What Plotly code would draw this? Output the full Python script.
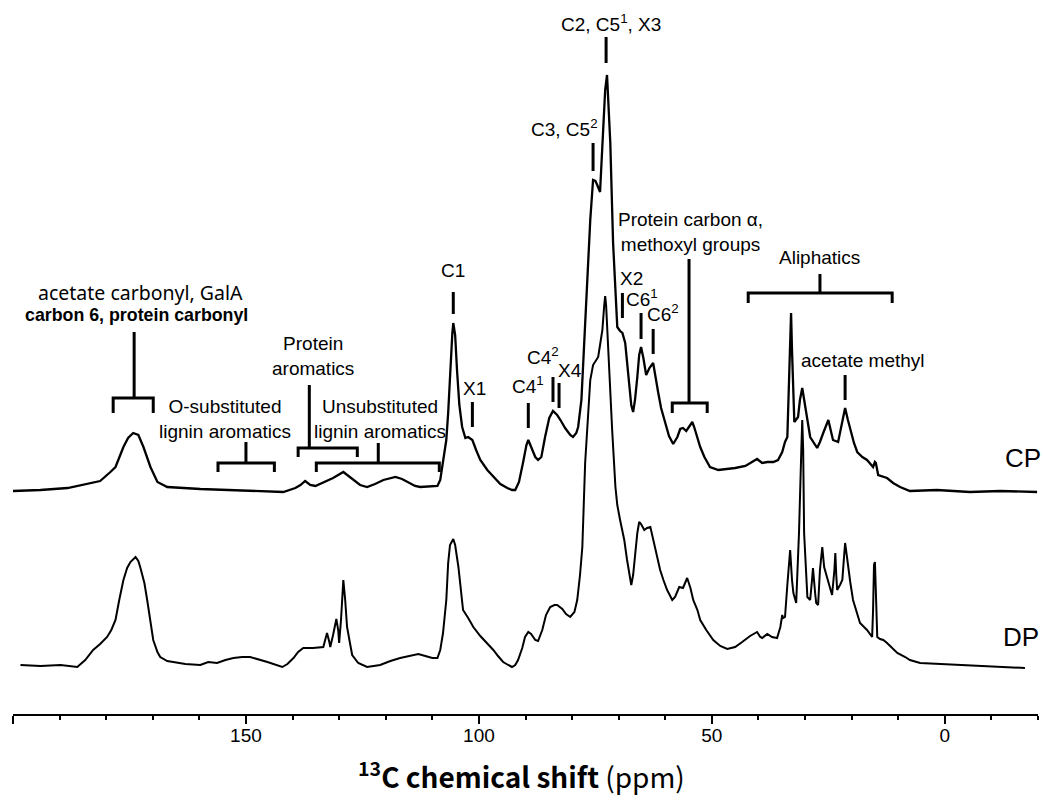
import plotly.graph_objects as go

# Solid-state 13C NMR spectra: chemical shift (ppm) vs. intensity (a.u.)
cp_ppm = [200.1, 194.1, 188.3, 181.3, 179.1, 178.0, 176.3, 175.3, 174.2, 173.1,
          172.0, 170.5, 169.0, 166.9, 159.8, 152.7, 146.9, 142.0, 139.4, 138.3,
          137.3, 136.2, 135.1, 134.1, 131.3, 129.1, 128.0, 127.0, 125.5, 124.0,
          122.3, 120.5, 117.9, 116.5, 115.4, 113.7, 112.6, 108.9, 108.3, 107.7,
          107.0, 106.6, 106.2, 105.7, 105.5, 105.1, 104.7, 104.2, 103.6, 102.9,
          102.3, 101.4, 100.6, 99.7, 98.2, 96.9, 95.4, 93.9, 92.9, 92.2,
          91.4, 90.5, 89.8, 89.4, 88.8, 87.9, 87.3, 86.6, 85.8, 84.9,
          84.1, 83.2, 82.5, 81.5, 80.4, 79.8, 79.1, 78.7, 78.0, 77.6,
          77.2, 76.7, 76.1, 75.5, 75.0, 74.6, 74.0, 73.3, 72.9, 72.5,
          72.3, 71.8, 71.2, 70.7, 70.3, 69.7, 69.2, 68.6, 67.9, 67.3,
          66.9, 66.5, 66.0, 65.6, 65.2, 64.7, 64.1, 63.4, 62.6, 62.2,
          61.5, 60.9, 60.0, 59.2, 58.3, 57.4, 56.8, 56.2, 55.5, 54.9,
          54.2, 53.8, 53.1, 52.5, 51.6, 50.4, 48.6, 46.7, 45.0, 42.8,
          41.8, 40.3, 39.2, 38.1, 36.8, 35.8, 34.9, 34.3, 33.8, 33.4,
          33.0, 32.8, 32.3, 31.5, 31.1, 30.6, 30.2, 29.5, 28.9, 27.4,
          26.8, 26.1, 25.0, 24.6, 24.0, 22.9, 22.3, 21.4, 20.8, 20.3,
          19.5, 18.8, 17.7, 16.7, 15.4, 15.0, 14.8, 14.3, 12.4, 11.1,
          9.6, 7.5, 1.7, -5.4, -11.9, -19.8]
cp_int = [-1, 0, 2, 9, 18, 23, 43, 52, 57, 55,
          43, 23, 8, 3, 1, 0, -1, -2, 2, 5,
          9, 5, 4, 6, 12, 18, 14, 10, 5, 3,
          6, 10, 13, 11, 8, 4, 3, 4, 10, 27,
          50, 77, 120, 157, 167, 155, 120, 85, 63, 52,
          53, 50, 40, 30, 20, 13, 6, 2, 0, 0,
          8, 28, 45, 50, 43, 33, 30, 33, 53, 72,
          79, 75, 70, 62, 55, 53, 57, 63, 90, 130,
          170, 213, 270, 310, 309, 305, 298, 363, 400, 415,
          395, 347, 247, 200, 163, 159, 157, 147, 113, 85,
          78, 90, 113, 135, 143, 132, 115, 122, 127, 115,
          97, 82, 68, 54, 46, 53, 61, 62, 59, 63,
          68, 63, 52, 43, 33, 23, 20, 21, 22, 24,
          27, 31, 27, 28, 28, 30, 38, 48, 53, 110,
          177, 140, 68, 73, 90, 102, 90, 67, 53, 42,
          48, 57, 70, 62, 50, 48, 62, 82, 70, 60,
          47, 38, 33, 30, 23, 28, 27, 15, 12, 7,
          3, -1, 0, -2, -1, -2]

dp_ppm = [198.4, 194.1, 189.8, 187.7, 186.2, 184.5, 182.8, 181.3, 179.8, 178.9,
          178.0, 177.2, 176.3, 175.5, 174.8, 173.7, 173.1, 172.7, 171.8, 171.2,
          170.5, 169.9, 169.0, 168.4, 166.9, 165.6, 163.0, 159.8, 158.1, 156.2,
          154.4, 152.7, 150.8, 149.1, 147.4, 145.4, 142.2, 141.1, 139.8, 138.8,
          137.7, 135.6, 133.4, 133.0, 132.6, 132.1, 131.9, 131.3, 130.6, 130.2,
          130.0, 129.6, 129.1, 128.7, 128.3, 127.6, 127.2, 125.9, 124.0, 121.2,
          119.0, 116.9, 114.7, 113.0, 111.5, 110.0, 108.9, 108.3, 107.7, 107.0,
          106.6, 106.2, 105.5, 105.1, 104.4, 103.8, 103.4, 102.3, 101.2, 99.7,
          98.2, 96.9, 95.9, 94.8, 93.7, 92.9, 92.2, 91.6, 90.7, 90.1,
          89.4, 88.8, 87.9, 87.3, 86.4, 85.6, 84.7, 83.8, 83.2, 82.1,
          81.3, 80.4, 79.5, 78.9, 78.3, 77.8, 77.2, 76.7, 76.1, 75.5,
          74.8, 74.4, 74.0, 73.5, 73.1, 72.9, 72.7, 72.3, 71.8, 71.4,
          70.7, 70.3, 69.7, 68.8, 68.2, 67.7, 67.3, 66.9, 66.5, 66.0,
          65.6, 65.2, 64.5, 63.9, 63.2, 62.8, 62.2, 61.7, 61.1, 60.4,
          59.6, 58.5, 57.9, 57.0, 56.2, 55.3, 54.6, 54.0, 53.1, 52.5,
          51.2, 49.7, 48.2, 46.7, 45.0, 43.5, 41.8, 40.3, 39.6, 39.2,
          38.1, 37.1, 36.0, 35.3, 34.9, 34.7, 34.3, 33.8, 33.2, 32.8,
          32.5, 31.9, 31.3, 30.8, 30.6, 30.4, 30.2, 29.5, 28.9, 28.5,
          28.3, 27.8, 27.6, 27.2, 26.8, 26.3, 26.1, 25.9, 25.3, 24.6,
          24.2, 23.7, 23.5, 23.3, 23.1, 22.5, 22.0, 21.6, 21.4, 21.2,
          20.8, 20.3, 19.7, 18.8, 18.2, 16.7, 15.6, 15.4, 15.2, 15.0,
          14.8, 14.5, 13.9, 13.2, 12.4, 11.3, 10.2, 8.5, 7.5, 5.3,
          1.0, -1.8, -7.6, -11.9, -17.2]
dp_int = [0, -1, 0, -1, -2, 5, 15, 21, 28, 35,
          45, 65, 85, 97, 103, 108, 104, 98, 82, 65,
          45, 25, 13, 8, 4, 3, 1, 0, 3, 2,
          5, 7, 8, 8, 6, 3, -2, 1, 7, 13,
          17, 17, 18, 25, 32, 23, 18, 30, 46, 35,
          22, 45, 85, 65, 38, 20, 10, 2, -2, 0,
          4, 7, 9, 11, 9, 7, 7, 15, 32, 65,
          102, 120, 126, 120, 98, 70, 55, 47, 38, 29,
          22, 15, 9, 3, 0, -2, 0, 5, 17, 28,
          33, 31, 25, 24, 35, 50, 58, 60, 60, 56,
          51, 48, 53, 65, 90, 118, 202, 245, 285, 300,
          305, 308, 320, 335, 360, 369, 360, 318, 275, 235,
          178, 160, 145, 125, 105, 90, 80, 90, 112, 132,
          143, 141, 135, 137, 138, 130, 115, 108, 95, 85,
          75, 65, 68, 78, 77, 87, 77, 65, 55, 45,
          35, 25, 19, 16, 18, 23, 29, 33, 28, 27,
          31, 28, 27, 38, 50, 47, 48, 80, 115, 85,
          72, 62, 132, 215, 245, 215, 132, 68, 65, 85,
          97, 70, 62, 60, 95, 118, 105, 98, 88, 77,
          70, 95, 112, 90, 75, 80, 85, 110, 122, 115,
          98, 83, 65, 52, 42, 35, 28, 55, 100, 103,
          65, 28, 26, 25, 22, 17, 12, 8, 5, 2,
          1, 0, -1, -2, -3]

x_tick_vals = [200, 150, 100, 50, 0]
x_tick_text = ["", "150", "100", "50", "0"]

# vertical stacking offset of the CP spectrum above the DP spectrum
CP_OFFSET = 175

LABEL_FONT = "Liberation Sans, Arial, sans-serif"
TEXT_SIZE = 19

fig = go.Figure()
fig.add_trace(go.Scatter(
    x=cp_ppm, y=[v + CP_OFFSET for v in cp_int], mode="lines",
    line=dict(color="black", width=2.3), name="CP", showlegend=False, hoverinfo="skip"))
fig.add_trace(go.Scatter(
    x=dp_ppm, y=dp_int, mode="lines",
    line=dict(color="black", width=2), name="DP", showlegend=False, hoverinfo="skip"))

shapes = []

# short marker bars above individual resonances: (ppm, bottom, top)
peak_marks = [(72.7, 602, 628), (75.5, 494, 522), (105.5, 351, 373), (101.4, 238, 263),
              (89.4, 237, 262), (84.1, 263, 288), (82.8, 257, 282), (69.2, 347, 372),
              (65.2, 326, 352), (62.6, 311, 336), (21.4, 265, 290)]
for ppm, y0, y1 in peak_marks:
    shapes.append(dict(type="line", xref="x", yref="y", x0=ppm, x1=ppm, y0=y0, y1=y1,
                       line=dict(color="black", width=3)))

# range brackets: (stem ppm, stem top, bar level, left ppm, right ppm, leg bottom)
brackets = [(174.0, 333, 267, 178.5, 169.9, 252),
            (150.0, 223, 202, 156.0, 143.9, 193),
            (136.4, 280, 217, 138.8, 126.1, 208),
            (121.6, 222, 202, 134.9, 108.5, 193),
            (54.9, 406, 262, 58.5, 51.0, 252),
            (26.8, 391, 372, 42.2, 11.3, 362)]
for stem, top, bar, left, right, foot in brackets:
    path = (f"M {left},{foot} L {left},{bar} L {right},{bar} L {right},{foot} "
            f"M {stem},{bar} L {stem},{top}")
    shapes.append(dict(type="path", xref="x", yref="y", path=path,
                       line=dict(color="black", width=3)))

annotations = []


def label(text, x, y, size=TEXT_SIZE, family=LABEL_FONT):
    annotations.append(dict(text=text, x=x, y=y, xref="x", yref="y", showarrow=False,
                            xanchor="center", yanchor="middle",
                            font=dict(family=family, size=size, color="black")))


label("C2, C5<sup>1</sup>, X3", 71.6, 642)
label("C3, C5<sup>2</sup>", 81.7, 537)
label("C1", 105.5, 395)
label("X1", 101.0, 277)
label("C4<sup>1</sup>", 89.4, 280)
label("C4<sup>2</sup>", 86.2, 309)
label("X4", 80.4, 295)
label("X2", 67.3, 387)
label("C6<sup>1</sup>", 64.9, 367)
label("C6<sup>2</sup>", 60.4, 352)
label("acetate methyl", 17.5, 305)
label("Protein carbon α,<br>methoxyl groups", 54.6, 433)
label("Aliphatics", 26.9, 408)
label("Protein<br>aromatics", 135.7, 309)
label("O-substituted<br>lignin aromatics", 154.6, 246)
label("Unsubstituted<br>lignin aromatics", 121.2, 246)
label("acetate carbonyl, GalA", 172.6, 373, size=19.5, family="Noto Sans, sans-serif")
label("<b>carbon 6, protein carbonyl</b>", 173.4, 350, size=17.8)
label("CP", -16.8, 207, size=26)
label("DP", -16.4, 28, size=26)

annotations.append(dict(
    text="<b><sup>13</sup>C chemical shift</b> (ppm)", xref="paper", yref="paper",
    x=0.496, y=-0.085, xanchor="center", yanchor="middle", showarrow=False,
    font=dict(family="Noto Sans CJK KR, Noto Sans, sans-serif", size=28, color="black")))

fig.update_layout(
    width=1043, height=807,
    margin=dict(l=13, r=5, t=0, b=93),
    paper_bgcolor="white", plot_bgcolor="white",
    shapes=shapes, annotations=annotations,
    xaxis=dict(range=[200, -20], showline=True, linecolor="black", linewidth=2,
               showgrid=False, zeroline=False, ticks="outside", ticklen=8, tickwidth=2,
               tickcolor="black", tickmode="array", tickvals=x_tick_vals, ticktext=x_tick_text,
               ticklabelstandoff=-5,
               tickfont=dict(family=LABEL_FONT, size=19, color="black"),
               minor=dict(ticks="outside", ticklen=4, tickwidth=2, tickcolor="black",
                          tickmode="linear", tick0=0, dtick=10)),
    yaxis=dict(range=[-49, 665], visible=False, showgrid=False, zeroline=False),
)

fig.write_html("out.html")
